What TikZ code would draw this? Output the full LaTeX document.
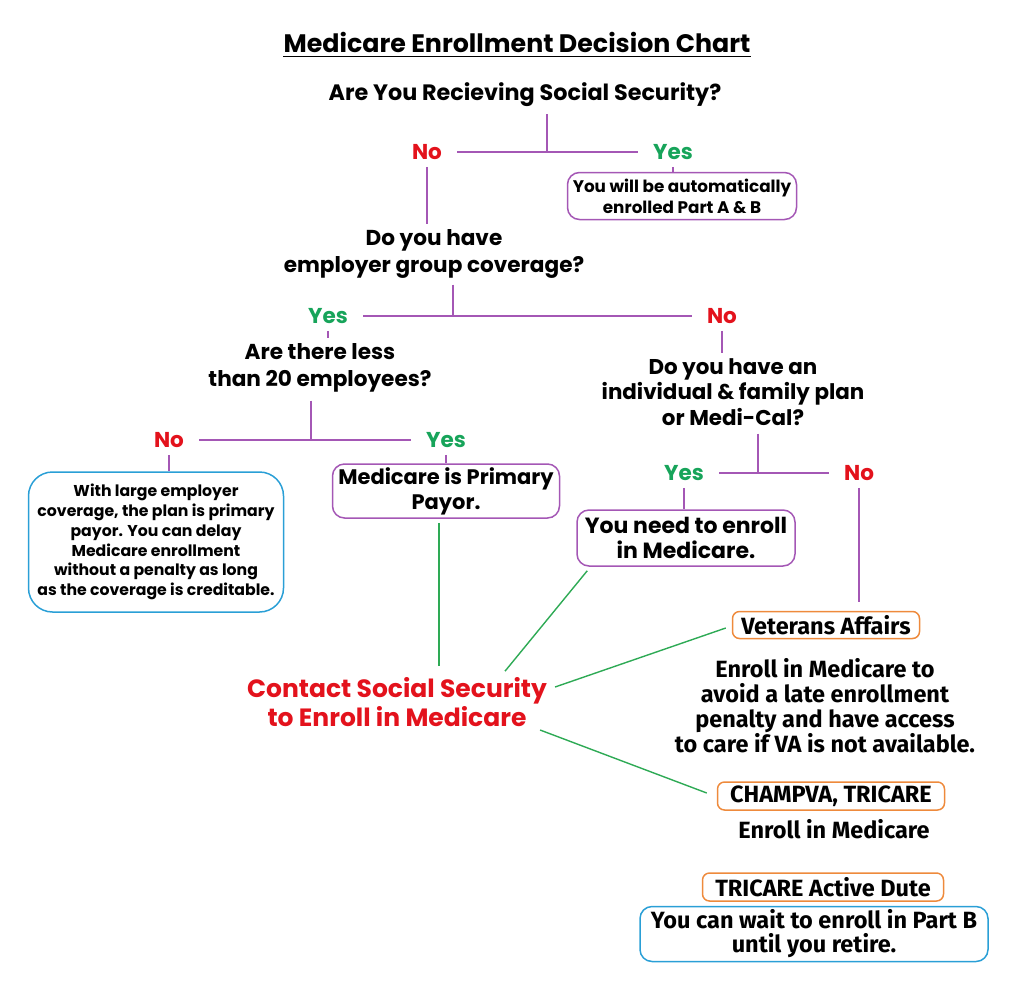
\documentclass[tikz,border=0pt]{standalone}
\usepackage{fontspec}
\setmainfont{Poppins}
\newfontfamily\condfont{Fira Sans}
\usetikzlibrary{positioning}
\definecolor{linepurple}{HTML}{A457B5}
\definecolor{linkgreen}{HTML}{2EAA55}
\definecolor{nored}{HTML}{E3121C}
\definecolor{yesgreen}{HTML}{17A45A}
\definecolor{noteblue}{HTML}{2A9FD6}
\definecolor{tagorange}{HTML}{EE8A3C}
\tikzstyle{heading} = [font=\bfseries\fontsize{25.3}{28}\selectfont, inner sep=0pt]
\tikzstyle{question} = [align=center, font=\bfseries\fontsize{21.6}{27}\selectfont, inner sep=0pt]
\tikzstyle{yes} = [text=yesgreen, font=\bfseries\fontsize{21.5}{22}\selectfont, inner xsep=15pt, inner ysep=7pt]
\tikzstyle{no} = [text=nored, font=\bfseries\fontsize{21.5}{22}\selectfont, inner xsep=15pt, inner ysep=7pt]
\tikzstyle{answer} = [rectangle, rounded corners=12pt, draw=linepurple, line width=1.5pt, align=center, inner sep=0pt]
\tikzstyle{note} = [rectangle, rounded corners=24pt, draw=noteblue, line width=1.5pt, align=center, inner sep=0pt]
\tikzstyle{tag} = [rectangle, rounded corners=7pt, draw=tagorange, line width=1.5pt, inner sep=0pt, font=\condfont\bfseries\fontsize{23.5}{24}\selectfont]
\tikzstyle{hint} = [align=center, inner sep=0pt, font=\condfont\bfseries\fontsize{23.5}{25}\selectfont]
\tikzstyle{branch} = [draw=linepurple, line width=1.5pt]
\tikzstyle{link} = [draw=linkgreen, line width=1.4pt]

\begin{document}
\begin{tikzpicture}[x=1pt, y=-1pt]
    \useasboundingbox (0,0) rectangle (1024,985);

    % title
    \node (title) [heading] at (517,42) {Medicare Enrollment Decision Chart};
    \draw [line width=1.5pt] ([yshift=-4pt]title.south west) -- ([yshift=-4pt]title.south east);

    % first question
    \node (q1) [question, font=\bfseries\fontsize{22.3}{27}\selectfont] at (525,95) {Are You Recieving Social Security?};
    \coordinate (j1) at (547,152);
    \node (no1) [no] at (427,152) {No};
    \node (yes1) [yes] at (673,152) {Yes};
    \node (auto) [answer, minimum width=229pt, minimum height=47pt, font=\bfseries\fontsize{16.8}{21}\selectfont] at (682,196) {You will be automatically\\enrolled Part A \& B};
    \draw [branch] ([yshift=-7pt]q1.south -| j1) -- (j1);
    \draw [branch] (no1.east) -- (yes1.west);
    \draw [branch] (yes1.south) -- (yes1.south |- auto.north);

    % employer coverage
    \node (q2) [question] at (434,254) {Do you have\\employer group coverage?};
    \draw [branch] (no1.south) -- ([yshift=5pt]no1.south |- q2.north);
    \coordinate (j2) at (453,316);
    \node (yes2) [yes] at (328,316) {Yes};
    \node (no2) [no] at (722,316) {No};
    \draw [branch] ([yshift=-6pt]q2.south -| j2) -- (j2);
    \draw [branch] (yes2.east) -- (no2.west);

    % less than 20 employees
    \node (q3) [question] at (320,368) {Are there less\\than 20 employees?};
    \draw [branch] (yes2.south) -- ([yshift=5pt]yes2.south |- q3.north);
    \coordinate (j3) at (311,440);
    \node (no3) [no] at (169,440) {No};
    \node (yes3) [yes] at (446,440) {Yes};
    \draw [branch] ([yshift=-8pt]q3.south -| j3) -- (j3);
    \draw [branch] (no3.east) -- (yes3.west);
    \node (large) [note, minimum width=255pt, minimum height=140pt, font=\bfseries\fontsize{15.7}{19.8}\selectfont] at (156,542) {With large employer\\coverage, the plan is primary\\payor. You can delay\\Medicare enrollment\\without a penalty as long\\as the coverage is creditable.};
    \node (primary) [answer, minimum width=227pt, minimum height=54pt, font=\bfseries\fontsize{21}{25}\selectfont] at (446,491) {Medicare is Primary\\Payor.};
    \draw [branch] (no3.south) -- (no3.south |- large.north);
    \draw [branch] (yes3.south) -- (yes3.south |- primary.north);

    % individual plan or Medi-Cal
    \node (q4) [question, font=\bfseries\fontsize{21.4}{25.5}\selectfont] at (733,392) {Do you have an\\individual \& family plan\\or Medi-Cal?};
    \draw [branch] (no2.south) -- ([yshift=5pt]no2.south |- q4.north);
    \coordinate (j4) at (758,473);
    \node (yes4) [yes] at (684,473) {Yes};
    \node (no4) [no] at (859,473) {No};
    \draw [branch] ([yshift=-8pt]q4.south -| j4) -- (j4);
    \draw [branch] (yes4.east) -- (no4.west);
    \node (enroll) [answer, minimum width=218pt, minimum height=56pt, font=\bfseries\fontsize{22}{25}\selectfont] at (686,538) {You need to enroll\\in Medicare.};
    \draw [branch] (yes4.south) -- (yes4.south |- enroll.north);

    % contact social security
    \node (contact) [align=center, text=nored, inner sep=0pt, font=\bfseries\fontsize{25}{29}\selectfont] at (397,702) {Contact Social Security\\to Enroll in Medicare};
    \draw [link] ([xshift=-7pt, yshift=-4pt]primary.south) -- ([xshift=-7pt]primary.south |- 0,666);
    \draw [link] ([shift={(11,4)}]enroll.south west) -- ([shift={(108,-6)}]contact.north);

    % other coverage
    \node (va) [tag, minimum width=187pt, minimum height=27pt] at (826,625) {Veterans Affairs};
    \draw [branch] (no4.south) -- ([yshift=9pt]no4.south |- va.north);
    \node (vatext) [hint] at (825,706) {Enroll in Medicare to\\avoid a late enrollment\\penalty and have access\\to care if VA is not available.};
    \node (champva) [tag, minimum width=227pt, minimum height=28pt] at (831,796) {CHAMPVA, TRICARE};
    \node (champtext) [hint] at (834,829) {Enroll in Medicare};
    \node (active) [tag, minimum width=241pt, minimum height=28pt] at (823,887) {TRICARE Active Dute};
    \node (wait) [note, rounded corners=12pt, minimum width=348pt, minimum height=55pt, font=\condfont\bfseries\fontsize{23.5}{24}\selectfont] at (814,934) {You can wait to enroll in Part B\\until you retire.};
    \draw [link] ([shift={(8,-15)}]contact.east) -- ([xshift=-6pt, yshift=-3pt]va.west);
    \draw [link] ([shift={(-7,28)}]contact.east) -- ([xshift=-10pt, yshift=3pt]champva.west);

\end{tikzpicture}
\end{document}
